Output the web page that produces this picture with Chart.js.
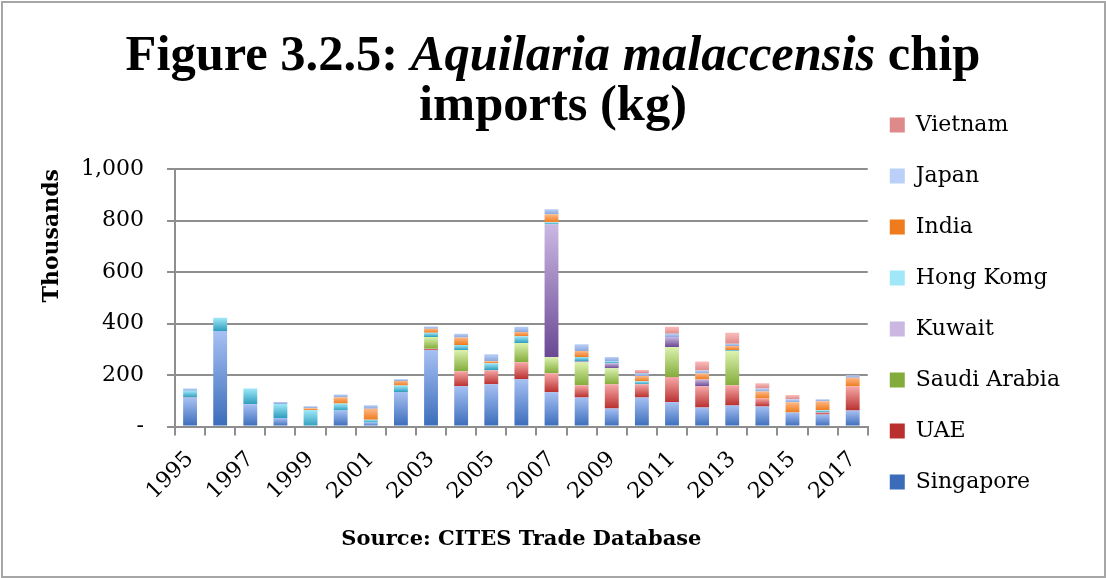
<!DOCTYPE html>
<html>
<head>
<meta charset="utf-8">
<script src="https://cdn.jsdelivr.net/npm/chart.js@4/dist/chart.umd.min.js"></script>
<style>
    html, body { margin: 0; padding: 0; background: #fff; }
    #wrap { position: relative; width: 1106px; height: 578px; overflow: hidden; }
    #frame { position: absolute; left: 1px; top: 1px; width: 1101px; height: 573px; border: 2px solid #a6a6a6; box-sizing: content-box; pointer-events: none; }
    #titulo {
        position: absolute; left: 0; top: 28px; width: 1106px; text-align: center;
        font-family: "Liberation Serif", serif; font-weight: bold; font-size: 50.5px; line-height: 50px; color: #000;
    }
    canvas { position: absolute; left: 0; top: 0; }
</style>
</head>
<body>
<div id="wrap">
    <canvas id="grafico" width="1106" height="578"></canvas>
    <div id="titulo">Figure 3.2.5: <i>Aquilaria malaccensis</i> chip<br>imports (kg)</div>
    <div id="frame"></div>
</div>
<script>
// --- DADOS (milhares de kg) ---
const anos = ['1995','1996','1997','1998','1999','2000','2001','2002','2003','2004','2005','2006',
              '2007','2008','2009','2010','2011','2012','2013','2014','2015','2016','2017'];

const singapore   = [111, 371, 87, 33, 0, 62, 16, 134, 297, 156, 164, 184, 133, 113, 70, 113, 94, 74, 82, 78, 55, 47, 62];
const uae         = [0, 0, 0, 0, 0, 0, 0, 0, 5, 59, 55, 66, 74, 47, 94, 51, 98, 82, 78, 31, 0, 8, 94];
const saudiArabia = [0, 0, 0, 0, 0, 0, 0, 0, 46, 82, 0, 74, 62, 90, 62, 0, 117, 0, 133, 0, 0, 0, 0];
const kuwait      = [2, 0, 0, 0, 0, 0, 0, 0, 0, 0, 0, 0, 516, 4, 20, 0, 39, 27, 0, 0, 0, 0, 0];
const hongKong    = [26, 51, 61, 55, 64, 27, 10, 25, 16, 20, 27, 27, 8, 16, 8, 12, 0, 0, 4, 0, 0, 8, 0];
const india       = [0, 0, 0, 0, 7, 25, 43, 18, 16, 29, 8, 16, 31, 23, 0, 20, 0, 23, 16, 27, 39, 35, 33];
const japan       = [9, 0, 0, 7, 8, 10, 14, 7, 8, 14, 27, 20, 20, 27, 16, 12, 12, 12, 8, 12, 12, 8, 10];
const vietnam     = [0, 0, 0, 0, 0, 0, 0, 0, 0, 0, 0, 0, 0, 0, 0, 12, 27, 35, 43, 20, 16, 0, 0];

const marcasY = [0, 200, 400, 600, 800, 1000];

// cores: [topo claro, base escura]
const series = [
    { nome: 'Singapore',    dados: singapore,   cor: ['#a6c0f3', '#3a6cba'] },
    { nome: 'UAE',          dados: uae,         cor: ['#f6a9a8', '#b9302f'] },
    { nome: 'Saudi Arabia', dados: saudiArabia, cor: ['#dcf2ae', '#83ac3b'] },
    { nome: 'Kuwait',       dados: kuwait,      cor: ['#cbb8e2', '#6a4894'] },
    { nome: 'Hong Komg',    dados: hongKong,    cor: ['#a0e8f9', '#2e9dbd'] },
    { nome: 'India',        dados: india,       cor: ['#fdb889', '#ef7b1c'] },
    { nome: 'Japan',        dados: japan,       cor: ['#bad0f7', '#8ca7dc'] },
    { nome: 'Vietnam',      dados: vietnam,     cor: ['#fcbcbc', '#de8a8a'] }
];

// gradiente vertical para cada segmento da pilha
function corGradiente(ctx) {
    const s = series[ctx.datasetIndex];
    const meio = s.cor[1];
    if (ctx.type !== 'data') return meio;
    const escala = ctx.chart.scales.y;
    if (!escala) return meio;
    let base = 0;
    for (let k = 0; k < ctx.datasetIndex; k++) base += series[k].dados[ctx.dataIndex];
    const topo = base + s.dados[ctx.dataIndex];
    const y0 = escala.getPixelForValue(base);
    const y1 = escala.getPixelForValue(topo);
    if (!isFinite(y0) || !isFinite(y1) || y0 === y1) return meio;
    const g = ctx.chart.ctx.createLinearGradient(0, y1, 0, y0);
    g.addColorStop(0, s.cor[0]);
    g.addColorStop(1, s.cor[1]);
    return g;
}

// encosta a legenda um pouco mais perto da área do gráfico
const ajusteLegenda = {
    id: 'ajusteLegenda',
    afterLayout(chart) {
        const leg = chart.legend;
        if (!leg) return;
        leg.left -= 7;
        leg.right -= 7;
    }
};

const cinza = '#8e8e8e';
const fonteTexto = { family: '"DejaVu Serif", serif', size: 22 };

const grafico = new Chart(document.getElementById('grafico'), {
    type: 'bar',
    data: {
        labels: anos,
        datasets: series.map(s => ({
            label: s.nome,
            data: s.dados,
            backgroundColor: corGradiente,
            borderWidth: 0,
            categoryPercentage: 1,
            barPercentage: 0.46
        }))
    },
    plugins: [ajusteLegenda],
    options: {
        responsive: false,
        animation: false,
        layout: { padding: { left: 0, right: 29, top: 55, bottom: 26 } },
        plugins: {
            // espaço reservado sobre a área do gráfico (o título real está no HTML)
            title: { display: true, text: '', fullSize: false, font: { size: 10 }, padding: { top: 102, bottom: 0 } },
            tooltip: { enabled: false },
            legend: {
                position: 'right',
                reverse: true,
                labels: {
                    color: '#000',
                    font: fonteTexto,
                    boxWidth: 15,
                    boxHeight: 15,
                    padding: 29
                }
            }
        },
        scales: {
            x: {
                stacked: true,
                border: { color: cinza, width: 2 },
                grid: { offset: true, drawOnChartArea: false, drawTicks: true, tickLength: 9, color: cinza, lineWidth: 2 },
                ticks: {
                    color: '#000',
                    font: fonteTexto,
                    autoSkip: false,
                    maxRotation: 45,
                    minRotation: 45,
                    padding: 11,
                    callback: (v, i) => (i % 2 === 0 ? anos[i] : '')
                },
                title: {
                    display: true,
                    text: 'Source: CITES Trade Database',
                    color: '#000',
                    font: { family: '"DejaVu Serif", serif', size: 21, weight: 'bold' },
                    padding: { top: 11, bottom: 0 }
                }
            },
            y: {
                stacked: true,
                min: 0,
                max: 1000,
                afterBuildTicks: (escala) => { escala.ticks = marcasY.map(v => ({ value: v })); },
                afterFit: (escala) => { escala.width = 175; },
                border: { color: cinza, width: 2 },
                grid: { color: cinza, lineWidth: 2, drawTicks: true, tickLength: 8 },
                ticks: {
                    color: '#000',
                    font: fonteTexto,
                    padding: 23,
                    callback: (v) => (v === 0 ? '-' : v.toLocaleString('en-US'))
                },
                title: {
                    display: true,
                    text: 'Thousands',
                    align: 'end',
                    color: '#000',
                    font: { family: '"DejaVu Serif", serif', size: 22, weight: 'bold' },
                    padding: { top: 39, bottom: 0 }
                }
            }
        }
    }
});
</script>
</body>
</html>
